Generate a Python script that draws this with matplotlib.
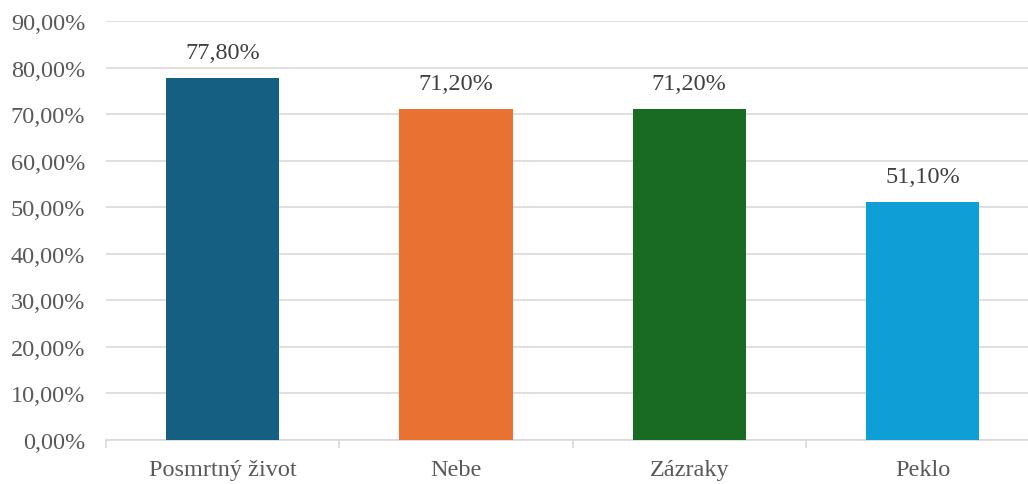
import numpy as np
import matplotlib.pyplot as plt
from matplotlib.ticker import FuncFormatter, FixedLocator

# Data.
categories = ["Posmrtný život", "Nebe", "Zázraky", "Peklo"]
values = [77.8, 71.2, 71.2, 51.1]
colors = ["#156082", "#e97132", "#196b24", "#0f9ed5"]

plt.rcParams['font.family'] = ['Liberation Serif', 'DejaVu Serif']

fig = plt.figure(figsize=(10.28, 4.85), dpi=100)
ax = fig.add_axes([106 / 1028, 1 - 441 / 485, (4 * 233.3) / 1028, (441 - 22) / 485])

x = np.arange(len(categories))
ax.bar(x, values, width=0.485, color=colors, zorder=3)

for xi, v in zip(x, values):
    ax.text(xi, v + 3.2, f"{v:.2f}%".replace(".", ","), ha="center", va="bottom",
            fontsize=17.5, color="#404040")

ax.set_xlim(-0.5, len(categories) - 0.5)
ax.set_ylim(0, 90)
ax.set_yticks(np.arange(0, 91, 10))
ax.yaxis.set_major_formatter(FuncFormatter(lambda v, p: f"{v:.2f}%".replace(".", ",")))
ax.yaxis.grid(True, color="#d9d9d9", linewidth=1.2, zorder=0)

ax.set_xticks(x)
ax.set_xticklabels(categories)
ax.xaxis.set_minor_locator(FixedLocator(np.arange(-0.5, len(categories), 1)))
ax.tick_params(axis="x", which="major", length=0, pad=14, labelsize=17.5, labelcolor="#595959")
ax.tick_params(axis="x", which="minor", length=6, color="#d9d9d9", width=1.2)
ax.tick_params(axis="y", length=0, pad=15, labelsize=17.5, labelcolor="#595959")

for s in ["top", "right", "left"]:
    ax.spines[s].set_visible(False)
ax.spines["bottom"].set_color("#d9d9d9")
ax.spines["bottom"].set_linewidth(1.2)

fig.savefig("out.png", dpi=100)
